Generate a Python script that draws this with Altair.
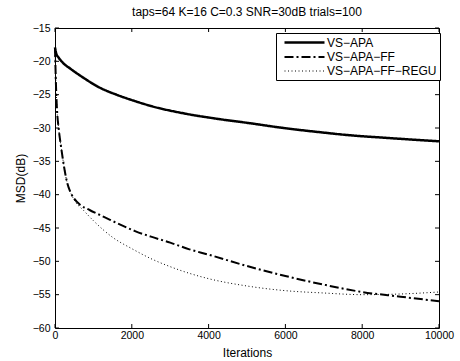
import altair as alt
import pandas as pd

# ---- data ----
series_names = ["VS\u2212APA", "VS\u2212APA\u2212FF", "VS\u2212APA\u2212FF\u2212REGU"]

iters_apa = [0, 30, 90, 220, 400, 750, 1150, 1600, 2050, 2500, 3350, 4200, 5100,
             5950, 6850, 7700, 8550, 10000]
msd_apa = [-17.9, -18.8, -19.4, -20.3, -21.1, -22.5, -23.9, -25.0, -25.9, -26.7, -27.8,
           -28.6, -29.3, -30.0, -30.6, -31.1, -31.45, -32.0]

iters_ff = [0, 25, 50, 100, 150, 200, 250, 300, 400, 500, 650, 900, 1300, 1700, 2100,
            2500, 3000, 3500, 4000, 5000, 6000, 7000, 8000, 9000, 10000]
msd_ff = [-18.0, -23.5, -27.0, -30.3, -32.5, -34.5, -36.3, -37.8, -39.6, -40.6, -41.5,
          -42.3, -43.4, -44.5, -45.5, -46.3, -47.2, -48.2, -49.0, -50.7, -52.2, -53.5,
          -54.6, -55.3, -56.0]

iters_regu = [0, 25, 50, 100, 150, 200, 250, 300, 400, 500, 750, 1000, 1500, 2000,
              2500, 3000, 3500, 4000, 5000, 6000, 7000, 8000, 9000, 10000]
msd_regu = [-18.0, -23.5, -27.0, -30.3, -32.5, -34.5, -36.3, -37.8, -39.6, -40.8, -42.4,
            -43.9, -46.4, -48.1, -49.6, -50.8, -51.8, -52.6, -53.7, -54.4, -54.75, -55.0,
            -54.9, -54.6]

x_ticks = [0, 2000, 4000, 6000, 8000, 10000]
y_ticks = [-15, -20, -25, -30, -35, -40, -45, -50, -55, -60]

title_text = "taps=64 K=16 C=0.3 SNR=30dB trials=100"

# ---- build table ----
rows = []
for name, xs, ys in [(series_names[0], iters_apa, msd_apa),
                     (series_names[1], iters_ff, msd_ff),
                     (series_names[2], iters_regu, msd_regu)]:
    for xv, yv in zip(xs, ys):
        rows.append({"series": name, "iter": xv, "msd": yv})
df = pd.DataFrame(rows)
xt = pd.DataFrame({"iter": x_ticks})
yt = pd.DataFrame({"msd": y_ticks})

W, H = 384, 300
FONT = "Liberation Sans"

xscale = alt.Scale(domain=[0, 10000], nice=False, zero=False)
yscale = alt.Scale(domain=[-60, -15], nice=False, zero=False)
xaxis = alt.Axis(values=x_ticks, format="d", title="Iterations", labelFlush=False,
                 labelPadding=2, titlePadding=7)
yaxis = alt.Axis(values=y_ticks, title="MSD(dB)", labelFlush=False, labelPadding=5,
                 titlePadding=5)

X = alt.X("iter:Q", scale=xscale, axis=xaxis)
Y = alt.Y("msd:Q", scale=yscale, axis=yaxis)

lines = alt.Chart(df).mark_line(interpolate="monotone", color="black").encode(
    x=X, y=Y,
    strokeDash=alt.StrokeDash(
        "series:N",
        scale=alt.Scale(domain=series_names, range=[[1, 0], [9, 3, 2, 3], [1, 2.5]]),
        legend=alt.Legend(title=None, orient="none", legendX=221, legendY=5,
                          symbolType="M-4,0H4", symbolSize=100,
                          symbolOffset=19,
                          symbolStrokeColor="black", fillColor="white",
                          strokeColor="black", padding=3, rowPadding=2,
                          labelFontSize=12, labelFont=FONT, labelColor="black",
                          labelOffset=16)),
    strokeWidth=alt.StrokeWidth(
        "series:N",
        scale=alt.Scale(type="ordinal", domain=series_names, range=[2.5, 2, 1]),
        legend=alt.Legend(title=None)),
)

tick_bottom = alt.Chart(xt).mark_rule(color="black").encode(
    x=X, y=alt.value(H), y2=alt.value(H - 4))
tick_top = alt.Chart(xt).mark_rule(color="black").encode(
    x=X, y=alt.value(0), y2=alt.value(4))
tick_left = alt.Chart(yt).mark_rule(color="black").encode(
    y=Y, x=alt.value(0), x2=alt.value(4))
tick_right = alt.Chart(yt).mark_rule(color="black").encode(
    y=Y, x=alt.value(W), x2=alt.value(W - 4))

chart = alt.layer(lines, tick_bottom, tick_top, tick_left, tick_right).properties(
    width=W, height=H,
    title=alt.TitleParams(title_text, fontSize=12, font=FONT, fontWeight="normal",
                          color="black", anchor="middle", offset=4),
    padding={"left": 55, "top": 28, "right": 21, "bottom": 33},
    autosize=alt.AutoSizeParams(type="none"),
    background="white",
).configure_view(stroke="black", strokeWidth=1).configure_axis(
    grid=False, ticks=False, domain=False, labelFont=FONT, labelFontSize=10.5,
    labelColor="black", titleFont=FONT, titleFontSize=12, titleFontWeight="normal",
    titleColor="black")

chart.save("out.html", embed_options={"renderer": "svg", "actions": False})
